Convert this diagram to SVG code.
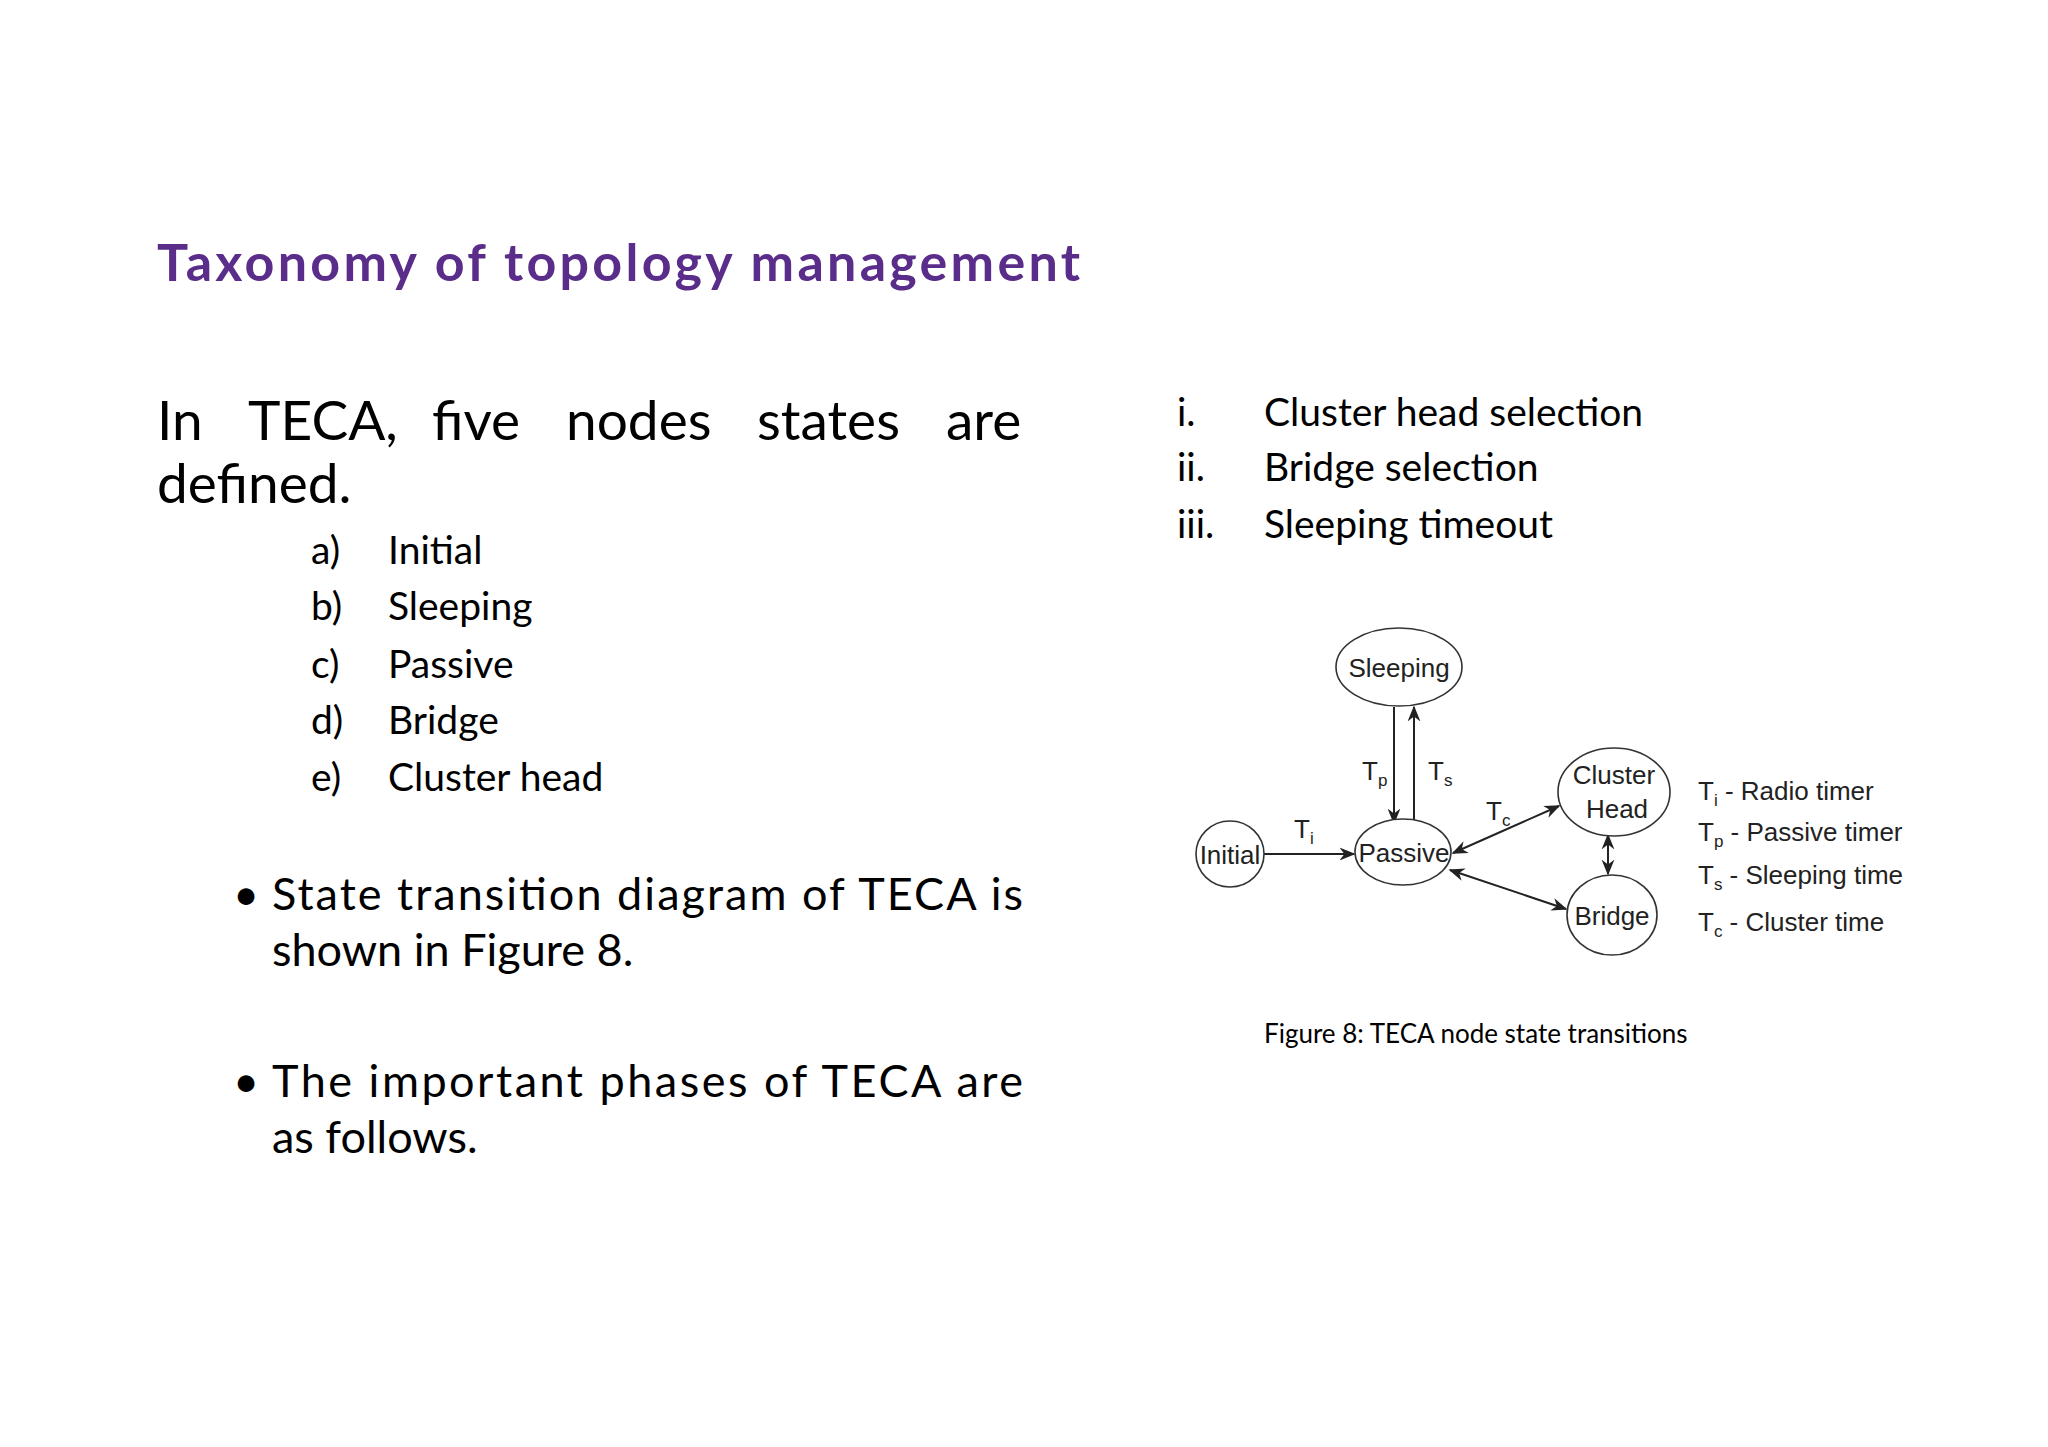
<svg xmlns="http://www.w3.org/2000/svg" width="2048" height="1447" viewBox="0 0 2048 1447">
<defs>
<style>
.b{font-family:Lato,"Open Sans","Liberation Sans",sans-serif;fill:#000}
.t{font-family:Lato,"Open Sans",sans-serif;font-weight:bold;fill:#5a2d8a;font-size:52px}
.d{font-family:"Liberation Sans",Arial,sans-serif;fill:#222;font-size:26px}
.n{fill:#fff;stroke:#333;stroke-width:1.6}
.c{stroke:#222;stroke-width:2;fill:none}
</style>
<marker id="a" viewBox="0 0 10 10" refX="9" refY="5" markerWidth="8" markerHeight="8" orient="auto-start-reverse"><path d="M0,1 L10,5 L0,9 L3,5 Z" fill="#222"/></marker>
</defs>
<rect width="2048" height="1447" fill="#fff"/>
<text class="t" x="157" y="281" textLength="923">Taxonomy of topology management</text>
<g class="b" font-size="55">
<text x="157" y="440">In</text><text x="248" y="440">TECA,</text><text x="432" y="440">five</text><text x="566" y="440">nodes</text><text x="757" y="440">states</text><text x="946" y="440">are</text>
<text x="157" y="503">defined.</text>
</g>
<g class="b" font-size="39">
<text x="311" y="564">a)</text><text x="388" y="564">Initial</text>
<text x="311" y="620">b)</text><text x="388" y="620">Sleeping</text>
<text x="311" y="678">c)</text><text x="388" y="678">Passive</text>
<text x="311" y="734">d)</text><text x="388" y="734">Bridge</text>
<text x="311" y="791">e)</text><text x="388" y="791">Cluster head</text>
</g>
<g class="b" font-size="45">
<text x="233" y="910">•</text><text x="272" y="910" textLength="751">State transition diagram of TECA is</text>
<text x="272" y="966">shown in Figure 8.</text>
<text x="233" y="1097">•</text><text x="272" y="1097" textLength="751">The important phases of TECA are</text>
<text x="272" y="1153">as follows.</text>
</g>
<g class="b" font-size="39">
<text x="1177" y="426">i.</text><text x="1264" y="426">Cluster head selection</text>
<text x="1177" y="481">ii.</text><text x="1264" y="481">Bridge selection</text>
<text x="1177" y="538">iii.</text><text x="1264" y="538">Sleeping timeout</text>
</g>
<g id="connectors">
<line class="c" x1="1394" y1="707" x2="1394" y2="823" marker-end="url(#a)"/>
<line class="c" x1="1414" y1="823" x2="1414" y2="707" marker-end="url(#a)"/>
<line class="c" x1="1264" y1="854" x2="1354" y2="854" marker-end="url(#a)"/>
<line class="c" x1="1453" y1="853" x2="1559" y2="806" marker-start="url(#a)" marker-end="url(#a)"/>
<line class="c" x1="1450" y1="870" x2="1566" y2="909" marker-start="url(#a)" marker-end="url(#a)"/>
<line class="c" x1="1608" y1="835" x2="1608" y2="874" marker-start="url(#a)" marker-end="url(#a)"/>
<text class="d" x="1362" y="780">T<tspan font-size="17" dy="6">p</tspan></text>
<text class="d" x="1428" y="780">T<tspan font-size="17" dy="6">s</tspan></text>
<text class="d" x="1486" y="820">T<tspan font-size="17" dy="6">c</tspan></text>
<text class="d" x="1294" y="838">T<tspan font-size="17" dy="6">i</tspan></text>
</g>
<g id="sleeping"><ellipse class="n" cx="1399" cy="667" rx="63" ry="39"/><text class="d" x="1399" y="677" text-anchor="middle">Sleeping</text></g>
<g id="passive"><ellipse class="n" cx="1403" cy="852" rx="48" ry="33"/><text class="d" x="1404" y="862" text-anchor="middle">Passive</text></g>
<g id="initial"><ellipse class="n" cx="1230" cy="854" rx="34" ry="33"/><text class="d" x="1230" y="864" text-anchor="middle">Initial</text></g>
<g id="cluster"><ellipse class="n" cx="1614" cy="792" rx="56" ry="44"/><text class="d" x="1614" y="784" text-anchor="middle">Cluster</text><text class="d" x="1617" y="818" text-anchor="middle">Head</text></g>
<g id="bridge"><ellipse class="n" cx="1612" cy="915" rx="45" ry="40"/><text class="d" x="1612" y="925" text-anchor="middle">Bridge</text></g>
<g class="d">
<text x="1698" y="800">T<tspan font-size="17" dy="6">i</tspan><tspan dy="-6"> - Radio timer</tspan></text>
<text x="1698" y="841">T<tspan font-size="17" dy="6">p</tspan><tspan dy="-6"> - Passive timer</tspan></text>
<text x="1698" y="884">T<tspan font-size="17" dy="6">s</tspan><tspan dy="-6"> - Sleeping time</tspan></text>
<text x="1698" y="931">T<tspan font-size="17" dy="6">c</tspan><tspan dy="-6"> - Cluster time</tspan></text>
</g>
<text class="b" x="1264" y="1043" font-size="26">Figure 8: TECA node state transitions</text>
</svg>
